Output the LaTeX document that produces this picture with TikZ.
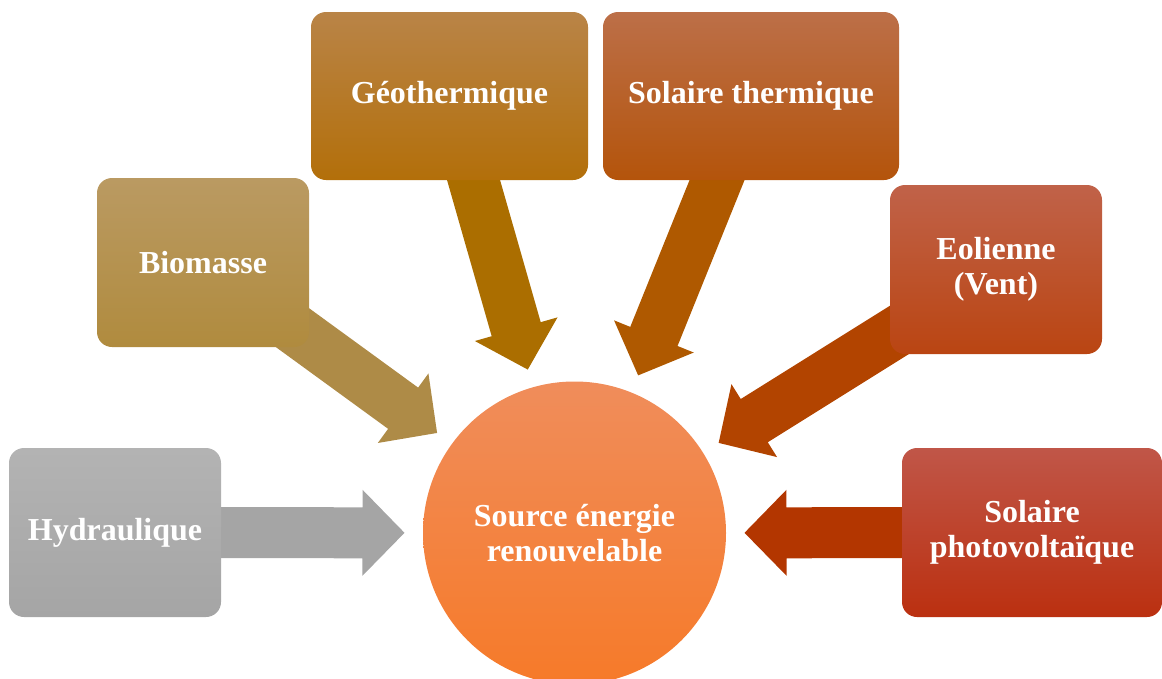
\documentclass[tikz,border=0pt]{standalone}
\usepackage{fontspec}
\setmainfont{Liberation Serif}
\usetikzlibrary{calc,backgrounds}

% box colours (top / bottom) and arrow colours
\definecolor{hydroTop}{HTML}{B3B3B3}
\definecolor{hydroBot}{HTML}{A5A5A5}
\definecolor{hydroArr}{HTML}{A5A5A5}
\definecolor{bioTop}{HTML}{BA9A62}
\definecolor{bioBot}{HTML}{B08B3E}
\definecolor{bioArr}{HTML}{AE8B47}
\definecolor{geoTop}{HTML}{B98447}
\definecolor{geoBot}{HTML}{B36F0A}
\definecolor{geoArr}{HTML}{AB6E00}
\definecolor{solTop}{HTML}{BC6F48}
\definecolor{solBot}{HTML}{B4540B}
\definecolor{solArr}{HTML}{AF5900}
\definecolor{eolTop}{HTML}{C06249}
\definecolor{eolBot}{HTML}{BA4512}
\definecolor{eolArr}{HTML}{B24400}
\definecolor{pvTop}{HTML}{C05648}
\definecolor{pvBot}{HTML}{BB3010}
\definecolor{pvArr}{HTML}{B33600}
\definecolor{srcTop}{HTML}{F08D5B}
\definecolor{srcBot}{HTML}{F67A29}

\tikzset{
  srcbox/.style={rounded corners=15pt, minimum height=169pt, inner sep=2pt,
    align=center, text=white, font=\fontsize{32}{35}\selectfont\bfseries},
}

% block arrow from the centre of a box towards the circle
\newcommand\blockarrow[2]{%
  \coordinate (tip) at ($(src.center)!170pt!(#1.center)$);
  \coordinate (hb) at ($(tip)!42pt!(#1.center)$);
  \fill[#2] (tip) -- ($(hb)!43pt!90:(tip)$) -- ($(hb)!25.5pt!90:(tip)$)
    -- ($(#1.center)!25.5pt!90:(hb)$) -- ($(#1.center)!25.5pt!-90:(hb)$)
    -- ($(hb)!25.5pt!-90:(tip)$) -- ($(hb)!43pt!-90:(tip)$) -- cycle;}

\begin{document}
\begin{tikzpicture}[x=1pt, y=-1pt]
  \useasboundingbox (0,0) rectangle (1162,678);

  % centre
  \node[circle, minimum size=303pt, inner sep=0pt, align=center, text=white,
    font=\fontsize{32}{35}\selectfont\bfseries, top color=srcTop, bottom color=srcBot]
    (src) at (574.5,533) {Source énergie\\renouvelable};

  % sources
  \node[srcbox, minimum width=212pt, top color=hydroTop, bottom color=hydroBot]
    (hydro) at (115,532.5) {Hydraulique};
  \node[srcbox, minimum width=212pt, top color=bioTop, bottom color=bioBot]
    (bio) at (203,262.5) {Biomasse};
  \node[srcbox, minimum width=277pt, minimum height=168pt, top color=geoTop, bottom color=geoBot]
    (geo) at (449.5,96) {Géothermique};
  \node[srcbox, minimum width=296pt, minimum height=168pt, top color=solTop, bottom color=solBot]
    (solth) at (751,96) {Solaire thermique};
  \node[srcbox, minimum width=212pt, top color=eolTop, bottom color=eolBot]
    (eol) at (996,269.5) {Eolienne\\(Vent)};
  \node[srcbox, minimum width=260pt, top color=pvTop, bottom color=pvBot]
    (pv) at (1032,532.5) {Solaire\\photovoltaïque};

  % arrows behind the boxes
  \begin{scope}[on background layer]
    \blockarrow{hydro}{hydroArr}
    \blockarrow{bio}{bioArr}
    \blockarrow{geo}{geoArr}
    \blockarrow{solth}{solArr}
    \blockarrow{eol}{eolArr}
    \blockarrow{pv}{pvArr}
  \end{scope}
\end{tikzpicture}
\end{document}
